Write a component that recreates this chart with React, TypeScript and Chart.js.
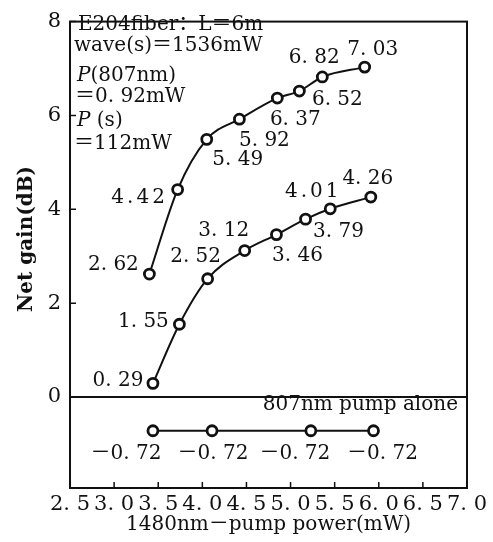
import React, { useEffect, useRef } from "react";
import { Chart, registerables } from "chart.js";

Chart.register(...registerables);

// ---- data ----
const xTicks = [2.5, 3.0, 3.5, 4.0, 4.5, 5.0, 5.5, 6.0, 6.5, 7.0];
const xTickLabels = ["2. 5", "3. 0", "3. 5", "4. 0", "4. 5", "5. 0", "5. 5", "6. 0", "6. 5", "7. 0"];
const yTicks = [0, 2, 4, 6, 8];
const yTickLabels = ["0", "2", "4", "6", "8"];

const combinedPower = [3.40, 3.72, 4.05, 4.42, 4.85, 5.10, 5.36, 5.84];
const combinedGain = [2.62, 4.42, 5.49, 5.92, 6.37, 6.52, 6.82, 7.03];
const combinedLabels = ["2. 62", "4.42", "5. 49", "5. 92", "6. 37", "6. 52", "6. 82", "7. 03"];

const pump1480Power = [3.44, 3.74, 4.06, 4.48, 4.84, 5.17, 5.45, 5.91];
const pump1480Gain = [0.29, 1.55, 2.52, 3.12, 3.46, 3.79, 4.01, 4.26];
const pump1480Labels = ["0. 29", "1. 55", "2. 52", "3. 12", "3. 46", "3. 79", "4.01", "4. 26"];

const pump807Power = [3.44, 4.11, 5.23, 5.94];
const pump807Gain = [-0.72, -0.72, -0.72, -0.72];
const pump807Labels = ["－0. 72", "－0. 72", "－0. 72", "－0. 72"];

const xTitle = "1480nm－pump power(mW)";
const yTitle = "Net gain(dB)";
const seriesNote = "807nm pump alone";

// label placement (pixel offsets from each marker)
const combinedLabelOffsets = [[-36, -9], [-38, 8], [31, 20], [25, 22], [18, 22], [38, 9], [-8, -19], [8, -17]];
const pump1480LabelOffsets = [[-35, -3], [-36, -2], [-12, -22], [-21, -20], [21, 21], [33, 13], [-17, -17], [-3, -18]];
const pump807LabelOffsets = [[-27, 23], [1, 23], [-16, 23], [9, 23]];

const FONT = "'DejaVu Serif', 'Noto Sans CJK SC', serif";
const INK = "#111";

export default function App() {
  const ref = useRef<HTMLCanvasElement>(null);

  useEffect(() => {
    const canvas = ref.current;
    if (!canvas) return;

    const labelSets = [
      { texts: combinedLabels, offsets: combinedLabelOffsets },
      { texts: pump1480Labels, offsets: pump1480LabelOffsets },
      { texts: pump807Labels, offsets: pump807LabelOffsets },
    ];

    const overlay = {
      id: "overlay",
      afterDatasetsDraw(chart: any) {
        const ctx = chart.ctx;
        ctx.save();
        ctx.fillStyle = INK;
        ctx.font = `20px ${FONT}`;
        ctx.textAlign = "center";
        ctx.textBaseline = "middle";
        labelSets.forEach((set, di) => {
          const meta = chart.getDatasetMeta(di);
          meta.data.forEach((el: any, i: number) => {
            const [dx, dy] = set.offsets[i];
            const t = set.texts[i];
            (ctx as any).letterSpacing = t.indexOf(". ") < 0 ? "3px" : "0px";
            ctx.fillText(t, el.x + dx, el.y + dy);
          });
        });
        (ctx as any).letterSpacing = "0px";
        ctx.restore();
      },
      afterDraw(chart: any) {
        const ctx = chart.ctx;
        const a = chart.chartArea;
        const xs = chart.scales.x;
        const ys = chart.scales.y;
        ctx.save();
        ctx.strokeStyle = INK;
        ctx.lineWidth = 2;
        ctx.strokeRect(a.left, a.top, a.right - a.left, a.bottom - a.top);
        ctx.lineWidth = 1.5;
        ctx.beginPath();
        xTicks.forEach((v) => {
          const px = xs.getPixelForValue(v);
          ctx.moveTo(px, a.bottom);
          ctx.lineTo(px, a.bottom - 6);
        });
        yTicks.forEach((v) => {
          const py = ys.getPixelForValue(v);
          ctx.moveTo(a.left, py);
          ctx.lineTo(a.left + 6, py);
        });
        ctx.stroke();

        // annotation block
        ctx.fillStyle = INK;
        ctx.textAlign = "left";
        ctx.textBaseline = "middle";
        const normal = `20px ${FONT}`;
        const italic = `italic 20px ${FONT}`;
        const put = (parts: [string, string][], x: number, y: number) => {
          let cx = x;
          parts.forEach(([t, f]) => {
            ctx.font = f;
            ctx.fillText(t, cx, y);
            cx += ctx.measureText(t).width;
          });
        };
        put([["E204fiber：L＝6m", normal]], a.left + 8, 25);
        put([["wave(s)＝1536mW", normal]], a.left + 4, 46);
        put([["P", italic], ["(807nm)", normal]], a.left + 7, 76);
        put([["＝0. 92mW", normal]], a.left + 5, 97);
        put([["P", italic], [" (s)", normal]], a.left + 7, 121);
        put([["＝112mW", normal]], a.left + 4, 144);

        // series note
        ctx.font = normal;
        ctx.textAlign = "right";
        ctx.fillText(seriesNote, a.right - 9, 405);

        // y title
        ctx.font = `bold 20px ${FONT}`;
        ctx.textAlign = "center";
        ctx.translate(27, 239);
        ctx.rotate(-Math.PI / 2);
        ctx.fillText(yTitle, 0, 0);
        ctx.restore();
      },
    };

    const ds = (xs: number[], ys: number[], smooth: boolean) => ({
      data: xs.map((x, i) => ({ x, y: ys[i] })),
      borderColor: INK,
      borderWidth: 2,
      pointRadius: 5,
      pointBorderWidth: 2.8,
      pointBackgroundColor: "#fff",
      pointBorderColor: INK,
      fill: false,
      cubicInterpolationMode: smooth ? "monotone" : "default",
      tension: 0,
    });

    const chart = new Chart(canvas, {
      type: "line",
      data: {
        datasets: [
          ds(combinedPower, combinedGain, true),
          ds(pump1480Power, pump1480Gain, true),
          ds(pump807Power, pump807Gain, false),
        ] as any,
      },
      options: {
        responsive: false,
        animation: false,
        layout: { padding: { top: 12, right: 26, left: 0, bottom: 0 } },
        plugins: { legend: { display: false }, tooltip: { enabled: false } },
        scales: {
          x: {
            type: "linear",
            min: 2.5,
            max: 7.0,
            afterBuildTicks: (s: any) => {
              s.ticks = xTicks.map((v) => ({ value: v }));
            },
            afterFit: (s: any) => {
              s.height = 54;
            },
            grid: { display: false, drawTicks: false },
            border: { display: false },
            ticks: {
              autoSkip: false,
              maxRotation: 0,
              padding: 4,
              color: INK,
              font: { family: FONT, size: 21 },
              callback: (v: any) => {
                const i = xTicks.findIndex((t) => Math.abs(t - Number(v)) < 1e-6);
                return i >= 0 ? xTickLabels[i] : "";
              },
            },
            title: {
              display: true,
              text: xTitle,
              color: INK,
              font: { family: FONT, size: 20 },
              padding: { top: 0, bottom: 5 },
            },
          },
          y: {
            type: "linear",
            min: -1.94,
            max: 8,
            afterBuildTicks: (s: any) => {
              s.ticks = yTicks.map((v) => ({ value: v }));
            },
            afterFit: (s: any) => {
              s.width = 70;
            },
            grid: {
              display: true,
              drawTicks: false,
              lineWidth: 2,
              color: (c: any) => (c.tick && c.tick.value === 0 ? INK : "rgba(0,0,0,0)"),
            },
            border: { display: false },
            ticks: {
              padding: 9,
              color: INK,
              font: { family: FONT, size: 21 },
              callback: (v: any) => {
                const i = yTicks.indexOf(Number(v));
                return i >= 0 ? yTickLabels[i] : "";
              },
            },
          },
        },
      },
      plugins: [overlay],
    } as any);

    return () => chart.destroy();
  }, []);

  return (
    <div style={{ position: "absolute", left: 0, top: 0, width: 493, height: 542, background: "#fff" }}>
      <canvas ref={ref} width={493} height={542} style={{ display: "block" }} />
    </div>
  );
}
